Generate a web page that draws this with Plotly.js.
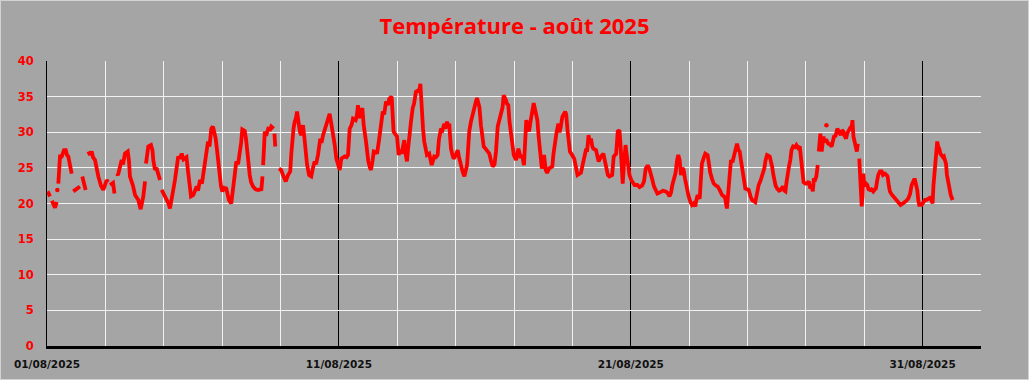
<!DOCTYPE html>
<html>
<head>
<meta charset="utf-8">
<script src="https://cdn.plot.ly/plotly-3.0.1.min.js"></script>
<style>
html,body{margin:0;padding:0;background:#a5a5a5;}
#chart{width:1027px;height:378px;border:1px solid #d2d2d2;}
</style>
</head>
<body>
<div id="chart"></div>
<script>
// Hours since 01/08/2025 00:00 and temperature (°C); null = missing data
const hours = [
0.5,2.5,3.2,4.0,5.3,6.6,8.0,8.2,
9.3,10.7,12.1,14.0,15.4,16.4,17.5,18.9,20.3,21.0,
21.6,23.8,25.7,27.1,28.0,
29.0,30.4,31.8,33.0,
34.0,35.4,36.8,37.8,39.5,40.7,42.2,44.4,46.3,49.1,50.2,51.0,
51.8,54.3,55.5,56.4,
57.3,58.4,61.4,62.5,64.1,66.4,67.4,68.2,70.7,72.4,75.1,77.0,79.2,80.6,81.0,
81.4,83.3,85.5,86.7,87.4,88.8,90.0,91.5,92.9,93.6,
94.3,96.2,98.4,99.9,101.1,102.4,103.8,105.2,106.4,107.9,109.3,110.8,112.2,113.5,114.7,115.7,116.8,118.4,120.3,121.7,123.1,124.2,125.8,127.4,129.7,
130.7,132.4,133.6,135.1,136.5,137.7,138.7,139.8,140.6,142.0,143.1,144.2,145.5,147.4,148.4,149.6,151.5,152.5,153.5,155.7,157.1,158.5,159.6,160.6,162.6,163.7,164.5,165.7,166.7,167.8,169.4,171.5,173.6,176.3,177.2,177.4,
177.7,179.1,180.2,181.9,183.5,184.4,186.4,186.7,
187.0,187.7,189.0,
190.7,192.6,194.0,196.3,198.2,200.0,200.9,201.7,202.7,203.7,204.7,205.6,206.4,207.2,208.0,209.1,210.5,211.8,212.7,213.8,215.5,217.3,218.7,220.1,221.2,222.8,224.7,225.7,227.0,228.6,229.7,231.0,232.4,233.5,234.6,235.6,236.6,237.9,239.3,240.7,242.0,243.4,244.8,246.3,247.5,248.9,250.4,251.6,253.8,254.9,255.7,256.5,257.6,259.3,260.4,
262.3,264.2,265.6,266.4,267.7,268.7,270.6,271.4,273.1,274.1,275.1,276.1,277.2,278.8,280.4,281.4,283.4,284.2,285.0,286.1,287.8,289.2,290.2,291.6,292.7,293.8,294.8,296.0,296.8,297.9,299.3,300.7,301.8,303.4,305.3,306.3,307.0,307.5,308.4,309.2,310.2,311.2,312.4,314.3,315.3,316.3,317.4,318.4,319.8,321.2,322.3,324.0,325.2,326.7,327.7,328.9,329.7,330.8,331.4,332.2,333.4,334.4,335.9,337.7,338.8,340.5,341.7,343.2,344.1,345.4,346.2,347.2,348.6,350.0,351.5,352.7,353.6,354.6,355.6,356.8,357.9,359.1,360.1,361.8,363.7,365.1,366.5,368.0,369.2,370.6,371.7,373.3,374.6,375.5,376.6,377.4,378.2,379.3,380.3,381.6,382.8,383.8,385.7,387.6,389.2,390.9,392.2,
393.1,394.1,395.1,396.4,397.6,398.6,400.2,401.3,401.9,403.2,404.2,405.2,405.9,406.9,407.9,408.7,410.1,411.2,412.8,415.5,416.5,417.8,419.0,420.5,421.5,422.5,423.8,426.1,426.9,428.0,429.0,430.0,431.8,433.5,434.7,436.2,439.0,440.9,443.1,444.2,445.3,446.3,447.3,448.4,449.2,451.4,452.5,453.6,455.5,457.5,458.7,459.7,461.2,462.4,464.7,466.0,468.0,469.3,470.7,471.5,472.1,472.8,473.4,474.4,475.7,476.5,477.6,479.0,480.4,481.5,483.1,485.4,487.2,488.2,489.3,490.9,492.3,493.4,494.4,495.4,496.4,497.5,499.1,500.4,501.9,503.3,505.4,506.5,508.7,510.2,511.9,513.1,514.2,515.5,516.9,518.0,519.1,520.2,521.3,522.5,523.5,524.6,525.6,527.6,529.1,530.3,531.6,533.0,534.0,535.0,536.1,536.7,537.7,538.5,540.2,541.3,543.2,544.3,545.4,546.8,548.2,550.1,551.5,553.4,555.1,556.7,557.7,558.3,559.1,559.9,560.5,561.6,562.4,563.6,564.6,565.7,566.5,567.4,568.6,569.6,570.7,571.5,572.7,574.2,575.6,577.0,578.5,579.7,582.4,583.8,585.2,586.7,587.9,589.0,589.8,590.8,592.1,594.3,595.4,596.2,597.3,598.1,599.1,600.4,602.0,603.1,604.5,605.3,606.3,607.2,608.1,609.4,610.2,611.2,612.2,613.5,615.1,616.2,617.6,619.0,620.1,620.9,622.1,623.6,625.0,626.4,627.7,628.7,629.7,630.5,631.6,632.6,633.8,634.2,
634.6,635.2,635.9,637.0,638.4,639.3,640.6,642.4,643.8,645.2,646.3,647.1,648.4,649.9,651.3,652.7,653.7,654.8,655.8,657.1,657.9,659.0,660.0,661.0,661.6,662.3,663.1,664.5,665.9,666.7,667.3,
667.9,669.1,669.9,670.6,671.2,671.8,672.6,673.4,674.5,675.5,676.7,677.9,679.4,680.8,681.6,682.4,683.5,684.9,686.3,687.4,689.0,690.3,691.2,692.2,693.1,694.4,695.8,697.2,698.6,700.1,701.9,703.8,705.5,706.7,708.2,709.6,711.0,712.0,712.9,713.7,714.5,715.6,716.4,717.2,719.2,720.7,721.9,723.2,724.6,726.0,726.8,728.2,728.9,730.1,730.9,732.0,732.8,733.7,734.6,735.6,736.7,737.5,738.4,739.2,740.0,741.1,742.1,743.1,744.7
];
const temps = [
21.7,21.0,null,20.4,19.9,19.4,20.2,null,
22.8,26.6,26.6,27.5,27.5,26.8,26.6,25.6,24.2,null,
21.7,22.0,22.1,22.4,null,
23.8,23.0,21.9,null,
27.3,26.8,27.3,26.5,26.1,25.0,23.8,22.5,21.9,23.3,23.0,null,
22.6,22.9,21.4,null,
24.2,24.0,26.1,25.5,27.0,27.3,26.0,23.8,22.5,21.2,20.5,19.2,21.0,23.1,null,
25.6,28.0,28.2,27.5,26.1,24.7,25.0,23.8,23.3,null,
21.9,21.3,20.7,20.0,19.3,20.3,21.9,23.3,25.0,26.6,26.3,27.0,26.2,26.3,26.5,24.9,23.3,21.0,21.2,22.0,22.4,21.8,23.3,22.8,25.9,
27.0,28.7,28.0,30.5,30.8,30.0,29.1,27.5,25.9,23.5,22.4,21.7,22.2,22.1,21.0,20.5,20.0,21.5,23.5,25.9,25.5,26.8,28.5,30.4,30.2,29.0,27.3,25.5,24.0,23.0,22.4,22.0,21.9,22.0,23.8,null,
25.4,30.1,29.5,30.5,30.4,30.8,30.5,null,
29.8,28.0,null,
24.9,24.7,24.0,23.1,24.0,24.5,27.0,29.1,30.5,31.5,32.0,32.9,31.5,30.5,30.0,29.6,31.0,29.0,26.8,25.5,24.0,23.8,25.0,25.9,25.5,26.8,29.1,28.5,29.6,30.5,31.5,32.0,32.6,31.5,30.5,29.5,28.2,26.3,25.5,24.7,26.3,26.4,26.6,26.5,26.8,30.5,31.0,31.9,31.7,32.5,33.8,32.0,32.4,33.4,31.0,
28.7,25.9,25.0,24.7,26.0,27.3,27.2,27.0,29.0,30.1,31.8,32.9,32.5,34.3,33.8,34.7,35.0,33.0,30.1,29.8,29.4,26.8,27.5,27.0,28.0,28.9,27.0,25.9,27.5,29.6,31.5,33.4,34.0,35.7,35.9,36.0,36.8,35.0,32.4,30.5,28.7,27.5,26.8,27.0,26.2,25.4,26.0,26.6,26.5,26.8,29.0,30.5,30.3,31.2,30.5,31.5,30.8,31.2,29.5,27.7,26.8,26.3,26.7,27.5,26.5,25.2,24.5,23.8,24.5,25.4,27.5,30.1,31.5,32.6,33.5,34.3,34.8,33.8,33.5,31.0,29.5,28.0,27.8,27.5,27.0,26.0,25.2,25.5,27.3,30.8,31.5,32.9,33.5,35.2,34.5,34.5,34.0,33.8,31.5,29.6,28.0,26.8,26.1,27.7,26.6,26.6,25.4,
29.0,31.7,31.0,30.1,31.5,32.6,34.1,33.2,32.6,31.7,29.5,27.5,26.0,24.9,26.0,26.8,24.7,24.3,24.9,25.2,27.0,28.9,30.0,31.2,30.0,30.8,32.2,32.9,32.5,30.3,28.5,27.3,26.8,26.3,25.3,24.0,24.3,26.1,27.5,27.5,29.6,28.5,29.1,28.0,27.7,27.5,26.5,25.9,26.6,27.0,26.0,25.2,24.0,23.8,24.0,26.6,27.0,30.1,30.3,28.5,27.0,24.5,22.8,25.5,28.2,27.0,25.2,24.0,23.3,23.0,22.6,22.6,22.3,22.4,22.5,23.1,24.9,25.2,25.2,24.8,24.3,23.5,22.4,22.0,21.4,21.5,21.7,21.8,21.7,21.5,21.0,21.5,22.6,23.5,24.3,26.0,26.8,26.1,24.0,25.0,24.7,23.5,22.4,21.0,20.2,19.8,20.0,19.6,20.5,21.2,20.8,20.7,23.5,25.6,26.5,27.0,26.8,25.5,24.3,23.5,22.8,22.5,22.4,21.8,21.2,21.0,20.7,20.0,19.3,21.0,22.4,24.5,26.1,25.8,26.6,27.5,28.0,28.4,27.5,27.3,26.0,25.2,23.5,22.1,22.0,21.9,21.0,20.5,20.2,21.5,22.6,23.2,23.8,24.5,24.9,26.0,26.8,26.6,26.0,25.2,24.0,23.3,22.5,22.1,21.8,21.9,22.3,22.4,21.8,21.7,23.0,24.9,25.3,26.1,27.5,28.0,27.9,28.2,27.8,28.0,26.0,23.8,23.0,22.8,22.8,23.1,22.1,22.5,21.7,23.3,23.3,23.8,25.4,null,
27.3,29.0,29.8,27.3,29.4,28.6,29.0,28.4,28.3,28.0,28.8,29.4,29.5,30.5,30.0,29.6,30.3,30.1,29.5,29.1,29.8,30.1,30.3,30.8,30.5,31.7,29.4,28.0,27.3,28.4,null,
26.3,21.9,19.6,21.0,24.2,23.0,22.4,22.8,22.6,22.0,21.9,22.0,21.7,22.0,22.1,23.0,24.0,24.5,24.5,24.0,24.2,24.0,23.8,22.5,21.7,21.3,21.0,20.8,20.5,20.1,19.8,20.0,20.2,20.4,20.7,21.3,22.6,23.0,23.3,23.3,22.8,21.9,20.5,19.8,19.8,20.3,20.5,20.5,20.7,20.8,20.7,20.0,22.5,25.6,27.5,28.7,28.0,27.7,27.0,26.8,26.5,26.6,26.0,25.6,24.0,22.8,21.8,21.2,20.5
];
// isolated single readings
const isoHours = [8.5, 640.9];
const isoTemps = [21.9, 31.0];

const tickDates = ['2025-08-01','2025-08-11','2025-08-21','2025-08-31'];
const tickLabels = ['01/08/2025','11/08/2025','21/08/2025','31/08/2025'];
const chartTitle = 'Température - août 2025';

const base = Date.UTC(2025,7,1);
function toDate(h){
  const d = new Date(base + h*3600000);
  return d.toISOString().slice(0,19).replace('T',' ');
}

const traces = [
  {x: hours.map(toDate), y: temps, type:'scatter', mode:'lines',
   line:{color:'#ff0000', width:3.8}, connectgaps:false, hoverinfo:'x+y'},
  {x: isoHours.map(toDate), y: isoTemps, type:'scatter', mode:'markers',
   marker:{color:'#ff0000', size:4.5}}
];

const layout = {
  width:1027, height:378,
  paper_bgcolor:'#a5a5a5', plot_bgcolor:'#a5a5a5',
  showlegend:false,
  margin:{l:46, r:47, t:60, b:33, pad:0},
  title:{text:chartTitle, font:{family:'Open Sans', size:22, color:'#ff0000', weight:'bold'},
         x:0.5, xanchor:'center', y:0.934, yanchor:'middle', yref:'container'},
  xaxis:{type:'date', range:['2025-08-01','2025-09-02'],
         tickmode:'array', tickvals:tickDates, ticktext:tickLabels,
         showgrid:true, gridcolor:'#000000', gridwidth:1,
         minor:{tickmode:'linear', tick0:'2025-08-01', dtick:2*86400000, showgrid:true, gridcolor:'#f2f2f2', gridwidth:1},
         showline:true, linecolor:'#000000', linewidth:3,
         ticks:'', ticklabelstandoff:6,
         tickfont:{family:'DejaVu Sans', size:10.5, color:'#111111', weight:'bold'},
         zeroline:false, fixedrange:true},
  yaxis:{range:[0,40], dtick:5, tick0:0,
         showgrid:true, gridcolor:'#f2f2f2', gridwidth:1,
         showline:true, linecolor:'#000000', linewidth:1,
         zeroline:false, ticks:'', ticklabelstandoff:10,
         tickfont:{family:'DejaVu Sans', size:11.5, color:'#ff0000', weight:'bold'},
         fixedrange:true}
};

Plotly.newPlot('chart', traces, layout, {displayModeBar:false, staticPlot:true});
</script>
</body>
</html>
